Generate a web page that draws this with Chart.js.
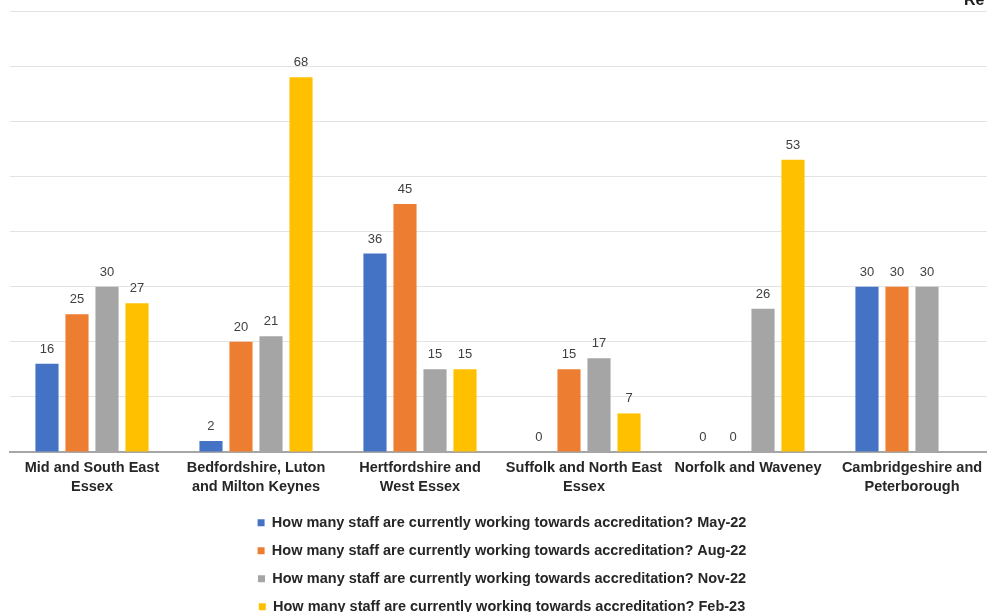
<!DOCTYPE html>
<html lang="en">
<head>
  <meta charset="UTF-8">
  <title>Staff working towards accreditation</title>
  <script src="https://cdn.jsdelivr.net/npm/chart.js"></script>
  <style>
    html, body {
      margin: 0;
      padding: 0;
      background: #ffffff;
      overflow: hidden;
    }
    .chart-box {
      position: relative;
      width: 1000px;
      height: 624px;
    }
  </style>
</head>
<body>
  <div class="chart-box">
    <canvas id="grafico"></canvas>
  </div>

<script>
  // regions (x axis)
  const regioes = [
    ["Mid and South East", "Essex"],
    ["Bedfordshire, Luton", "and Milton Keynes"],
    ["Hertfordshire and", "West Essex"],
    ["Suffolk and North East", "Essex"],
    "Norfolk and Waveney",
    ["Cambridgeshire and", "Peterborough"]
  ];

  const pergunta = "How many staff are currently working towards accreditation?";
  const periodos = ["May-22", "Aug-22", "Nov-22", "Feb-23"];

  // one array per survey round
  const maio22 = [16, 2, 36, 0, 0, 30];
  const ago22 = [25, 20, 45, 15, 0, 30];
  const nov22 = [30, 21, 15, 17, 26, 30];
  const fev23 = [27, 68, 15, 7, 53, null];

  const cores = ["#4472C4", "#ED7D31", "#A5A5A5", "#FFC000"];
  const eixoY = { min: 0, max: 80, passo: 10 };

  const fonte = "'Liberation Sans', Arial, sans-serif";

  // writes the value above each bar
  const rotulosValores = {
    id: "rotulosValores",
    afterDatasetsDraw(chart) {
      const ctx = chart.ctx;
      ctx.save();
      ctx.font = "13px " + fonte;
      ctx.fillStyle = "#404040";
      ctx.textAlign = "center";
      ctx.textBaseline = "alphabetic";
      chart.data.datasets.forEach((ds, i) => {
        const meta = chart.getDatasetMeta(i);
        meta.data.forEach((barra, j) => {
          const v = ds.data[j];
          if (v === null || v === undefined) return;
          ctx.fillText(String(v), barra.x, barra.y - 11);
        });
      });
      ctx.restore();
    }
  };

  // heading of the slide, mostly outside the visible area
  const tituloCortado = {
    id: "tituloCortado",
    afterDraw(chart) {
      const ctx = chart.ctx;
      ctx.save();
      ctx.font = "bold 16px " + fonte;
      ctx.fillStyle = "#1a1a1a";
      ctx.textAlign = "left";
      ctx.textBaseline = "alphabetic";
      ctx.fillText("Re", 964, 5);
      ctx.restore();
    }
  };

  const dados = [maio22, ago22, nov22, fev23];

  new Chart(document.getElementById("grafico"), {
    type: "bar",
    data: {
      labels: regioes,
      datasets: dados.map((serie, i) => ({
        label: pergunta + " " + periodos[i],
        data: serie,
        backgroundColor: cores[i],
        borderWidth: 0,
        categoryPercentage: 0.732,
        barPercentage: 0.77
      }))
    },
    options: {
      responsive: true,
      maintainAspectRatio: false,
      animation: false,
      layout: {
        padding: { top: 11, left: 10, right: 6, bottom: 0 }
      },
      scales: {
        x: {
          grid: { display: false, drawTicks: false },
          border: { display: true, color: "#a6a6a6", width: 2 },
          ticks: {
            padding: 6,
            color: "#262626",
            maxRotation: 0,
            autoSkip: false,
            font: { family: fonte, size: 14.5, weight: "bold", lineHeight: 1.31 }
          }
        },
        y: {
          min: eixoY.min,
          max: eixoY.max,
          grid: { color: "#e3e3e3", lineWidth: 1, drawTicks: false },
          border: { display: false },
          ticks: { display: false, stepSize: eixoY.passo }
        }
      },
      plugins: {
        legend: {
          position: "bottom",
          labels: {
            boxWidth: 7,
            boxHeight: 7,
            padding: 13.5,
            color: "#262626",
            font: { family: fonte, size: 14.5, weight: "bold" }
          }
        },
        tooltip: { enabled: false }
      }
    },
    plugins: [rotulosValores, tituloCortado]
  });
</script>
</body>
</html>
